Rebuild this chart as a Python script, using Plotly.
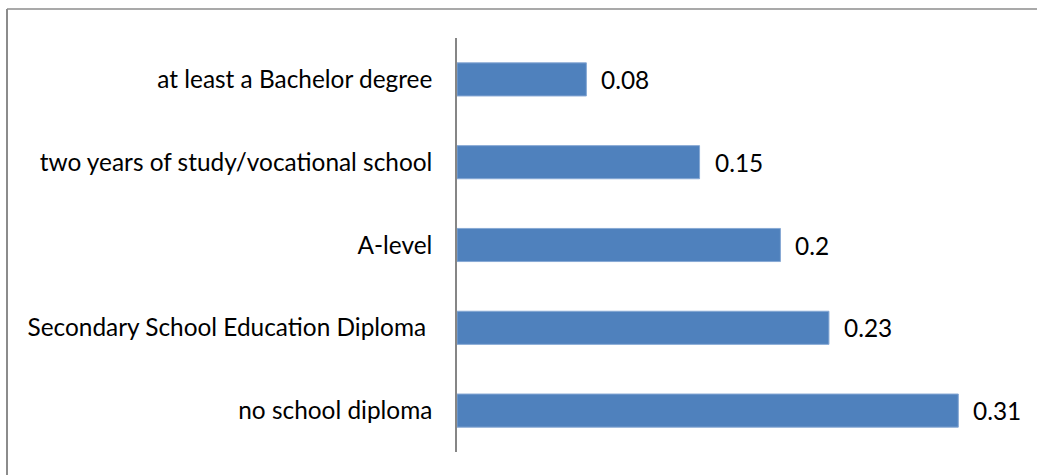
import plotly.graph_objects as go

# Education levels (top to bottom) and their shares
categories = [
    "at least a Bachelor degree",
    "two years of study/vocational school",
    "A-level",
    "Secondary School Education Diploma\u00a0",
    "no school diploma",
]
values = [0.08, 0.15, 0.2, 0.23, 0.31]
value_labels = ["0.08", "0.15", "0.2", "0.23", "0.31"]

# Canvas and plot-area geometry (pixels)
W, H = 1037, 475
L, R, T, B = 457, 14, 38, 23
plot_w = W - L - R
plot_h = H - T - B

FONT = "Lato"
FONT_SIZE = 24.4
BAR_COLOR = "#4F81BD"
FRAME_COLOR = "#8c8c8c"


def px_to_paper_x(px):
    return (px - L) / plot_w


def py_to_paper_y(py):
    return (H - B - py) / plot_h


fig = go.Figure()
fig.add_trace(
    go.Bar(
        x=values,
        y=categories,
        orientation="h",
        marker=dict(color=BAR_COLOR, line=dict(color="#86a8d4", width=1)),
        hoverinfo="skip",
    )
)

# Value labels to the right of each bar
for cat, val, lab in zip(categories, values, value_labels):
    fig.add_annotation(
        x=val,
        y=cat,
        text=lab,
        showarrow=False,
        xanchor="left",
        xshift=13,
        font=dict(family=FONT, size=FONT_SIZE, color="#000000"),
    )

# Outer chart frame (top and left edges)
fig.add_shape(
    type="line", xref="paper", yref="paper",
    x0=px_to_paper_x(7), x1=px_to_paper_x(W + 20),
    y0=py_to_paper_y(9), y1=py_to_paper_y(9),
    line=dict(color=FRAME_COLOR, width=1.5),
)
fig.add_shape(
    type="line", xref="paper", yref="paper",
    x0=px_to_paper_x(7), x1=px_to_paper_x(7),
    y0=py_to_paper_y(9), y1=py_to_paper_y(H + 20),
    line=dict(color=FRAME_COLOR, width=2),
)

fig.update_layout(
    width=W,
    height=H,
    margin=dict(l=L, r=R, t=T, b=B, pad=0),
    paper_bgcolor="white",
    plot_bgcolor="white",
    bargap=0.6,
    showlegend=False,
    font=dict(family=FONT, size=FONT_SIZE, color="#000000"),
    xaxis=dict(
        range=[0, 0.35],
        visible=False,
        showgrid=False,
        zeroline=False,
    ),
    yaxis=dict(
        autorange="reversed",
        showgrid=False,
        zeroline=False,
        showline=True,
        linecolor="#868686",
        linewidth=1.5,
        ticks="",
        ticklabelstandoff=18,
        tickfont=dict(family=FONT, size=FONT_SIZE, color="#000000"),
    ),
)

fig.write_html("out.html")
